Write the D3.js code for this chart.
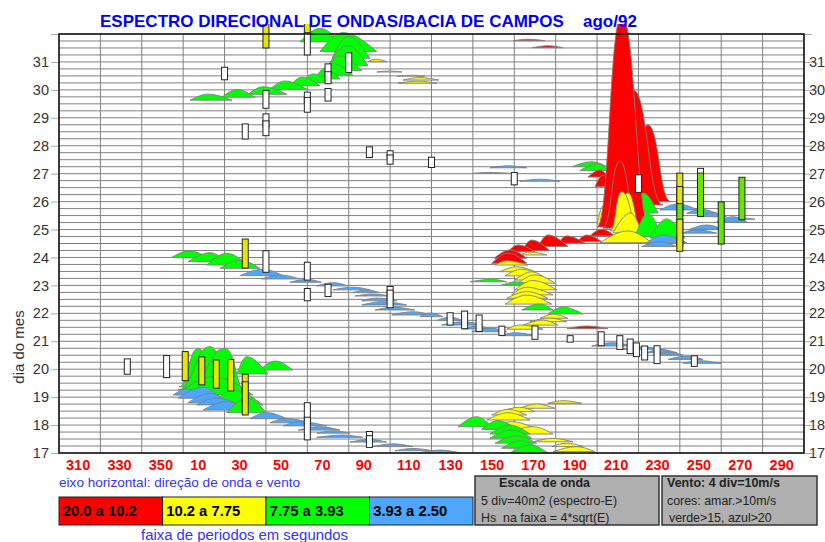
<!DOCTYPE html>
<html>
<head>
<meta charset="utf-8">
<script src="https://cdn.jsdelivr.net/npm/d3@7"></script>
<style>
html, body { margin: 0; padding: 0; background: #fff; overflow: hidden; }
svg { display: block; font-family: "Liberation Sans", Arial, sans-serif; }
text { white-space: pre; }
</style>
</head>
<body>
<div id="chart"></div>
<script>
// each ridge: [day of baseline, left dir, peak dir, right dir, energy m2]
const redRidges = [
  [31.76,159.4,166.6,174.8,1.7],[31.51,168.5,176.3,183.5,2.3],
  [26.88,195.6,201.4,205.3,8],[26.53,199,202.8,207.2,13.4],
  [26.0,215.9,224.5,235.7,87.9],[25.88,208.6,217.4,231.9,131.8],
  [25.05,202.8,211,219.7,76.8],[25.09,200,211.9,225.6,243],
  [24.77,196.5,202.2,208.6,7.7],[24.56,190.3,195,202.4,7.7],
  [24.51,181.1,185.3,194.2,8.4],[24.39,171.4,176.3,186,13.4],
  [24.24,163.7,168.4,177.2,12.3],[24.21,156.9,161.8,170,7.7],
  [23.97,150.2,157.9,166.1,9.5],[23.79,149.1,157,166.1,11.8],
  [21.45,185.5,195.1,205.3,3.1]
];
const yellowRidges = [
  [31.01,89.3,92.7,98.5,2.8],[30.64,93.6,99.9,105.7,1.1],
  [30.49,103.3,110.6,116.8,1.1],[30.35,106.2,114.4,123.6,2.9],
  [30.24,103.8,113.5,122.6,2.3],[24.98,206.2,214.9,221.7,42.6],
  [24.95,206.2,211.9,220.7,45],[24.88,207.7,216.2,221.7,22.9],
  [25.2,200,202.8,206.2,20],[24.53,201.4,214.9,226.5,13.4],
  [24.09,162.7,167.6,175.8,3.4],[23.73,150.7,156.3,166.6,4.9],
  [23.49,153.1,161.1,170,5.7],[23.34,155.5,163.6,173.2,7.7],
  [23.19,160.3,168.4,176.3,9.5],[23.08,161.8,170,179.7,9.5],
  [22.84,160.3,169,180.5,10.7],[22.66,158.7,166,178.7,8.8],
  [22.54,156.3,166,176.3,7.6],[22.33,155.5,166,178.1,10.3],
  [21.82,172.4,178.7,185.9,4.9],[21.7,167.6,177.2,185.3,4.2],
  [21.58,164.2,173.9,181.1,5.7],[21.43,156.3,162.7,173.9,4.9],
  [18.78,176.3,183.5,192.6,3],[18.6,162.7,170.8,179.7,4.9],
  [18.48,153.1,162.7,170,5],[18.36,149.1,157,166,6.5],
  [18.18,146.7,157,167.6,8.4],[17.85,144.9,158.7,170.8,8.7],
  [17.68,156.3,169,178.7,8.4],[17.4,169,178.7,188.4,3.9],
  [17.23,178.1,185.3,193.2,3.9],[17.05,178.7,190.1,199,5.7]
];
const greenRidges = [
  [31.72,56.4,66.1,75.8,15.4],[31.37,66.1,77.2,93.6,21.8],
  [31.13,71.9,79.6,90.3,24.8],[30.87,70,79.2,89.3,22.9],
  [30.69,68.5,75.8,86.4,16.8],[30.53,66.1,72.4,82,13.4],
  [30.39,63.7,68.5,75.8,12.3],[30.26,57.4,62.7,72.4,10],
  [30.15,51.6,57.4,66.1,9.6],[30.02,41.9,49.2,59.8,9.5],
  [29.84,31.3,38.6,50.2,8.7],[29.74,18.7,26,34.7,8.8],
  [29.63,3.3,12,23.6,6.9],[27.25,187.9,197.5,204.8,5.7],
  [27.11,191.7,200.4,205.3,7.7],[25.77,218.3,220.7,227,11.5],
  [25.59,219.3,222.2,229.5,22.9],[24.74,218.3,224.5,231.3,26.8],
  [24.7,225.6,233.6,242.4,21.8],[24.0,354.4,2.9,12,7.6],
  [23.85,2.3,13,21,10.3],[23.73,11.4,21,31.3,13.4],
  [23.61,17.8,27.4,37.1,9.5],[23.13,138.6,149.1,156.3,2.8],
  [23.01,153.9,161.1,167.6,3.8],[22.12,163.6,172.4,178.7,6.9],
  [21.98,176.3,183.5,193.2,7.7],[19.97,37.1,44.4,53,10.3],
  [19.83,25.9,30.7,41,19.8],[19.37,358,7.2,16.2,44],
  [19.26,357.5,13,24,49.6],[19.15,1.7,20.2,30.7,51.2],
  [19.08,356.9,14.4,33.7,21],[18.72,14.4,24,38.6,17.2],
  [18.44,21,30.7,40.3,16.8],[17.94,132.8,141.8,149.1,11.5],
  [17.85,144.2,152.1,161.2,9.9],[17.68,148.2,157.9,167.6,10.3],
  [17.53,148.2,158.7,168.4,9.5],[17.35,150.7,161.1,170.8,8.4],
  [17.17,153.9,162.7,172.4,8.4],[17.0,157.9,167.6,176.3,9.2]
];
const blueRidges = [
  [27.21,148.2,157,166,2.3],[27.01,140,147.3,157.9,1.1],
  [26.73,162.7,172.4,182,2.3],[25.7,230.3,239,248.7,6.9],
  [25.58,243.3,250.5,257.8,4.6],[25.46,248.7,256,262.6,4.6],
  [25.37,262.6,269,276.3,1.5],[25.28,257.8,265.7,272.3,5.7],
  [25.01,244.9,252.9,261,4.9],[24.87,240.9,248.1,257.8,3.8],
  [24.53,224,231.8,243.3,8.8],[24.39,221.5,230.3,238.5,5.7],
  [23.35,27.4,38.7,48.2,7.3],[23.23,37.9,46.8,56.4,4.6],
  [23.11,51.6,59.7,66.9,3.4],[22.98,64.5,72.4,79.6,3.8],
  [22.84,72.4,82,90.3,3.1],[22.74,82,88.7,95.1,3.1],
  [22.62,83,91.7,99.9,2.3],[22.45,86.3,93.5,103.2,3.1],
  [22.3,86.3,96.5,108,3.8],[22.12,92.7,101.4,112,3.1],
  [21.94,100.8,111,120.2,3.8],[21.88,114.4,119.3,125.5,4.2],
  [21.74,122.5,128.9,135.2,3.9],[21.58,124.9,135.2,144.9,3.8],
  [21.44,135.2,141.8,149.1,3.4],[21.34,139.4,148.2,156.3,4.2],
  [21.2,153.1,160.3,170,3.4],[20.83,197.4,207.7,217.3,3.8],
  [20.71,212.5,222.2,230.3,3],[20.59,224,230.3,238.5,3.9],
  [20.51,227,235.2,241.5,3.4],[20.35,234.3,243.3,251.2,3.8],
  [20.21,241.5,249.7,259.9,3],[19.08,355.1,1.7,9.6,6.5],
  [18.96,357.5,9.6,17.8,12.6],[18.8,2.3,13,22.6,10.8],
  [18.72,6.5,16.2,27.4,8],[18.54,9.6,21,30.7,9.5],
  [18.23,32.3,40.3,50,6.9],[18.08,41.9,50,61.3,5],
  [17.97,48.4,56.4,69.3,4.9],[17.82,55.6,66.1,75.8,3.8],
  [17.71,64.5,72.4,80.6,2.6],[17.56,64.5,77.2,86.9,2.6],
  [17.39,80.6,90.3,98.3,3.1],[17.23,91.7,101.4,111,3.1],
  [17.08,102.3,111,120.7,2.6],[17.01,114.4,124,133.7,3.1]
];

// wind bars: [direction, day of base, speed m/s]
const windBars = [
  [60,32.04,10.5],[40,31.5,10.5],[60,31.25,7.9],[80,30.62,7.05],[70,30.5,4.3],
  [20,30.36,4.5],[70,30.22,4.3],[70,29.6,4.5],[60,29.53,3.9],[40,29.34,6.4],
  [60,29.2,5.3],[40,28.64,5],[40,28.36,5.3],[30,28.24,5.4],[90,27.58,3.8],
  [100,27.56,2.6],[100,27.34,3.3],[120,27.22,3.7],[250,26.77,4.2],[160,26.6,4.4],
  [220,26.33,6.3],[240,25.95,10.7],[240,25.5,10.4],[250,25.47,15.5],[270,25.35,15.2],
  [260,24.48,15.1],[240,24.41,15.2],[240,24.22,11.5],[30,23.62,10.4],[40,23.47,7.7],
  [60,23.19,6.4],[70,22.6,4.4],[100,22.48,4.8],[60,22.45,4.4],[100,22.2,6.3],
  [129,21.58,4.4],[136,21.45,6.3],[143,21.35,5.9],[154,21.21,3.3],[170,21.07,4.8],
  [187,20.97,2.3],[202,20.84,5],[211,20.71,4.9],[216,20.56,5.2],[219,20.45,4.9],
  [223,20.33,5],[229,20.2,6.4],[247,20.1,3.8],[333,19.82,5.5],[352,19.7,7.9],
  [1,19.59,10.4],[9,19.44,10],[16,19.32,10.1],[23,19.22,11.3],[30,18.72,11],
  [30,18.36,11.9],[60,18.0,8],[60,17.47,8.1],[90,17.47,3],[90,17.2,4.2]
];

const dayTicks = d3.range(17, 33);
const dirGrid = d3.range(300, 661, 20);
const bandLabels = ["20.0 a 10.2", "10.2 a 7.75", "7.75 a 3.93", "3.93 a 2.50"];
const bandColors = ["#ff0000", "#ffff00", "#00ff00", "#4da6ff"];
const windColors = ["#ffffff", "#e6e600", "#66e600", "#4da6ff"];
const windLimits = [10, 15, 20];
const waveLines = ["5 div=40m2 (espectro-E)", "Hs  na faixa = 4*sqrt(E)"];
const windLines = ["cores: amar.>10m/s", "verde>15, azul>20"];

const width = 825, height = 542;
const plotL = 59, plotR = 804, plotT = 34, plotB = 453;

const svg = d3.select("#chart").append("svg").attr("width", width).attr("height", height);

const x = d3.scaleLinear().domain([300, 660]).range([plotL, plotR]);
const y = d3.scaleLinear().domain([17, 32]).range([plotB, plotT]);
const unwrap = d => d < 300 ? d + 360 : d;
const windColor = d3.scaleThreshold().domain(windLimits).range(windColors);

// grid, 4 divisions per day
svg.append("g").selectAll("line").data(d3.range(17, 32.01, 0.25)).join("line")
  .attr("x1", plotL).attr("x2", plotR).attr("y1", d => y(d)).attr("y2", d => y(d))
  .attr("stroke", "#808080");
svg.append("g").selectAll("line").data(dirGrid).join("line")
  .attr("x1", d => x(d)).attr("x2", d => x(d)).attr("y1", plotT).attr("y2", plotB)
  .attr("stroke", "#808080");

// axes
const dayLabel = d => d === 32 ? "" : d;
[d3.axisLeft(y).tickPadding(2), d3.axisRight(y).tickPadding(-3)].forEach((axis, i) => {
  const g = svg.append("g")
    .attr("transform", `translate(${i ? plotR : plotL},0)`)
    .call(axis.tickValues(dayTicks).tickFormat(dayLabel).tickSize(8));
  g.select(".domain").remove();
  g.selectAll("line").attr("stroke", "#aaa");
  g.selectAll("text").attr("font-size", 14.5).attr("fill", "#333");
});

const xAxis = svg.append("g")
  .attr("transform", `translate(0,${plotB})`)
  .call(d3.axisBottom(x).tickValues(dirGrid.slice(0, -1)).tickSize(0).tickFormat(d => (d + 10) % 360));
xAxis.select(".domain").remove();
xAxis.selectAll("text")
  .attr("text-anchor", "start").attr("x", 6.5).attr("y", 17).attr("dy", 0)
  .attr("font-size", 14.5).attr("font-weight", "bold").attr("fill", "#ff0000");

// ridges are clipped a bit above the frame, as on the original sheet
svg.append("clipPath").attr("id", "sheet").append("rect")
  .attr("x", 0).attr("y", 24).attr("width", width).attr("height", plotB - 24 + 1);

const ridges = [redRidges, yellowRidges, greenRidges, blueRidges]
  .flatMap((rows, band) => rows.map(r => ({
    day: r[0], band,
    pts: [[r[1], 0], [r[2], r[4]], [r[3], 0]]
  })))
  .sort((a, b) => d3.descending(a.day, b.day));

// 1 day = 4 div = 32 m2. Tall peaks flare at the foot, low ones are plain hats
const ridgeArea = d => d3.area()
  .curve(d.pts[1][1] > 40 ? d3.curveBumpX : d3.curveMonotoneX)
  .x(p => x(unwrap(p[0])))
  .y0(y(d.day))
  .y1(p => y(d.day + p[1] / 32))(d.pts);

const marks = svg.append("g").attr("clip-path", "url(#sheet)");

marks.append("g").selectAll("path").data(ridges).join("path")
  .attr("d", ridgeArea)
  .attr("fill", d => bandColors[d.band])
  .attr("stroke", "#808080")
  .attr("stroke-width", 0.9);

// wind bars, 4 div = 10 m/s
marks.append("g").selectAll("rect").data(windBars).join("rect")
  .attr("x", d => x(unwrap(d[0])) - 3)
  .attr("y", d => y(d[1] + d[2] / 10))
  .attr("width", 6)
  .attr("height", d => y(d[1]) - y(d[1] + d[2] / 10))
  .attr("fill", d => windColor(d[2]))
  .attr("stroke", "#222");

// frame
svg.append("rect")
  .attr("x", plotL).attr("y", plotT).attr("width", plotR - plotL).attr("height", plotB - plotT)
  .attr("fill", "none").attr("stroke", "#111").attr("stroke-width", 1.5);

// title
svg.append("text").attr("x", 100).attr("y", 27)
  .attr("font-size", 17).attr("font-weight", "bold").attr("fill", "#0000ff")
  .text("ESPECTRO DIRECIONAL DE ONDAS/BACIA DE CAMPOS");
svg.append("text").attr("x", 583).attr("y", 27)
  .attr("font-size", 17).attr("font-weight", "bold").attr("fill", "#0000ff")
  .text("ago/92");

svg.append("text").attr("transform", "translate(24,347) rotate(-90)")
  .attr("text-anchor", "middle").attr("font-size", 15).attr("fill", "#333")
  .text("dia do mes");

svg.append("text").attr("x", 59).attr("y", 487)
  .attr("font-size", 13.6).attr("fill", "#3333ff")
  .text("eixo horizontal: direção de onda e vento");
svg.append("text").attr("x", 141).attr("y", 540)
  .attr("font-size", 14.9).attr("fill", "#3333ff")
  .text("faixa de periodos em segundos");

// period legend
const legendX = d3.scaleBand().domain(bandLabels).range([plotL, 473]);
const legend = svg.append("g").selectAll("g").data(bandLabels).join("g")
  .attr("transform", d => `translate(${legendX(d)},497)`);
legend.append("rect")
  .attr("width", legendX.bandwidth()).attr("height", 28)
  .attr("fill", (d, i) => bandColors[i]).attr("stroke", "#222");
legend.append("text")
  .attr("x", 3.7).attr("y", 19)
  .attr("font-size", 14.8).attr("font-weight", "bold").attr("fill", "#000")
  .text(d => d);

// note boxes
const noteBox = (bx, bw, head, headX, lines, lineX) => {
  const g = svg.append("g");
  g.append("rect").attr("x", bx).attr("y", 476).attr("width", bw).attr("height", 49)
    .attr("fill", "#b0b0b0").attr("stroke", "#333").attr("stroke-width", 1.5);
  g.append("text").attr("x", headX).attr("y", 487)
    .attr("font-size", 12.5).attr("font-weight", "bold").attr("fill", "#222").text(head);
  g.selectAll("text.note").data(lines).join("text").attr("class", "note")
    .attr("x", (d, i) => lineX[i]).attr("y", (d, i) => 504.5 + i * 17)
    .attr("font-size", 12.4).attr("fill", "#222").text(d => d);
};
noteBox(475, 184, "Escala de onda", 499, waveLines, [481, 481]);
noteBox(662, 155, "Vento: 4 div=10m/s", 667, windLines, [667, 669]);
</script>
</body>
</html>
